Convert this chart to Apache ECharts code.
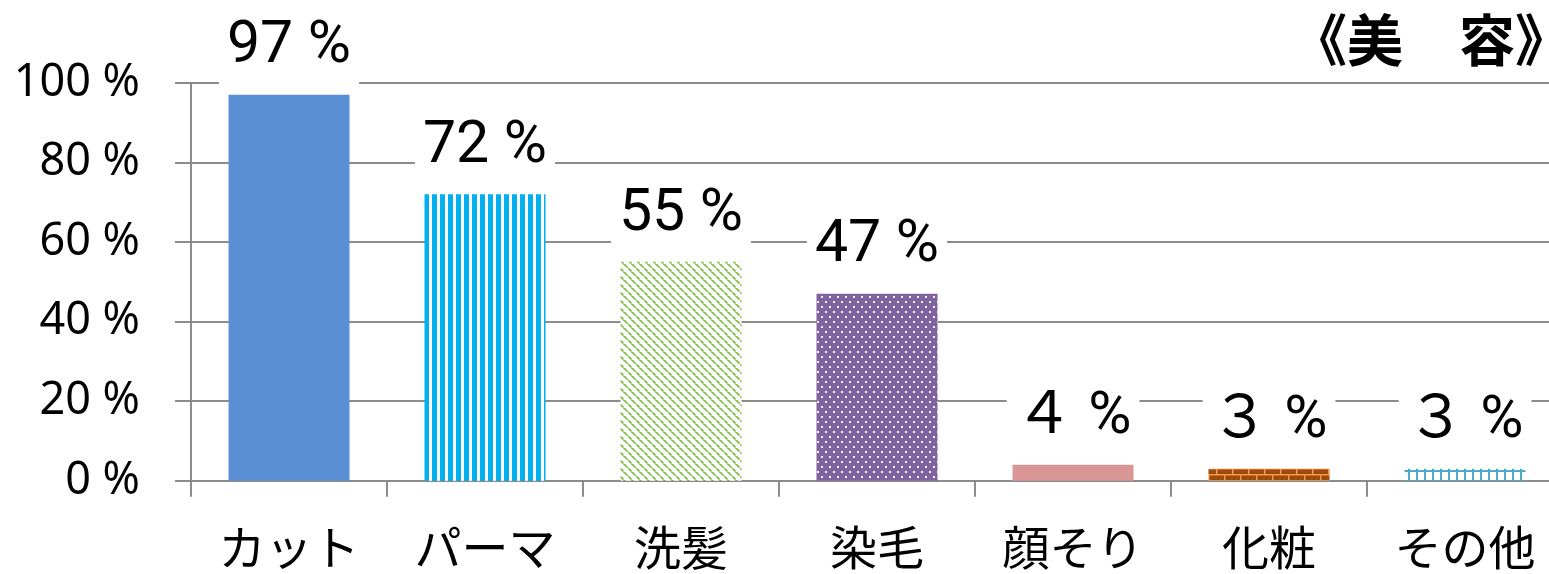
<!DOCTYPE html>
<html>
<head>
<meta charset="utf-8">
<script src="https://cdn.jsdelivr.net/npm/echarts@6/dist/echarts.min.js"></script>
<style>
html,body{margin:0;padding:0;background:#fff;}
#chart{width:1549px;height:574px;}
</style>
</head>
<body>
<div id="chart"></div>
<script>
// ---- data ----
var categories = ['カット', 'パーマ', '洗髪', '染毛', '顔そり', '化粧', 'その他'];
var values = [97, 72, 55, 47, 4, 3, 3];
var yTicks = [0, 20, 40, 60, 80, 100];
var titleText = '《美　容》';

// ---- pattern helpers (styles only) ----
function mk(w, h, draw) {
  var c = document.createElement('canvas');
  c.width = w; c.height = h;
  var g = c.getContext('2d');
  draw(g);
  return { image: c, repeat: 'repeat' };
}
var pStripes = mk(8, 8, function (g) {
  g.fillStyle = '#fff'; g.fillRect(0, 0, 8, 8);
  g.fillStyle = '#00B0F0'; g.fillRect(0, 0, 5, 8);
});
var pDiag = mk(8, 8, function (g) {
  g.fillStyle = '#fff'; g.fillRect(0, 0, 8, 8);
  g.fillStyle = '#8CC152';
  for (var i = 0; i < 8; i++) { if (i % 4 !== 3) g.fillRect(i, i, 1.8, 1.8); }
  g.fillRect(7, 0, 1, 1);
});
var pDots = mk(8, 10, function (g) {
  g.fillStyle = '#8064A2'; g.fillRect(0, 0, 8, 10);
  g.fillStyle = 'rgba(255,255,255,0.9)';
  g.fillRect(1, 1, 2, 2);
  g.fillRect(5, 6, 2, 2);
});
var pBrick = mk(16, 12, function (g) {
  g.fillStyle = '#9E4A0C'; g.fillRect(0, 0, 16, 12);
  g.fillStyle = '#F79646';
  g.fillRect(0, 0, 16, 1.5);
  g.fillRect(0, 6, 16, 1.5);
  g.fillRect(0, 0, 1.5, 6);
  g.fillRect(8, 6, 1.5, 6);
});
var pGrid = mk(8, 10, function (g) {
  g.fillStyle = '#fff'; g.fillRect(0, 0, 8, 10);
  g.fillStyle = '#4BACC6';
  g.fillRect(0, 0, 2, 10);
  g.fillRect(0, 0, 8, 2);
});
var barFills = ['#5A8FD6', pStripes, pDiag, pDots, '#D99694', pBrick, pGrid];

var gray = '#8C8C8C';
var chart = echarts.init(document.getElementById('chart'), null, { renderer: 'canvas' });

function fw(n) {
  return String(n).split('').map(function (ch) {
    return String.fromCharCode(0xFF10 + (+ch));
  }).join('');
}

chart.setOption({
  animation: false,
  backgroundColor: '#fff',
  grid: { left: 191, top: 82.7, width: 1372, height: 398, containLabel: false, outerBoundsMode: 'none' },
  xAxis: {
    type: 'category',
    data: categories,
    boundaryGap: true,
    axisLine: { show: true, lineStyle: { color: gray, width: 2 } },
    axisTick: { show: true, length: 16, lineStyle: { color: gray, width: 2 } },
    axisLabel: {
      color: '#000', fontSize: 47, fontFamily: 'Noto Sans CJK JP', margin: 42, lineHeight: 48,
      interval: 0
    }
  },
  yAxis: {
    type: 'value',
    min: yTicks[0], max: yTicks[yTicks.length - 1], interval: 20,
    axisLine: { show: true, lineStyle: { color: gray, width: 2 } },
    axisTick: { show: true, length: 16, lineStyle: { color: gray, width: 2 } },
    splitLine: { show: true, lineStyle: { color: gray, width: 2 } },
    axisLabel: {
      color: '#000', fontSize: 45, fontFamily: 'Noto Sans', margin: 51,
      formatter: function (v) { return v + ' %'; }
    }
  },
  graphic: [{
    type: 'text', left: 1291, top: 12, z: 100,
    style: { text: titleText, font: 'bold 56px "Noto Sans CJK JP"', fill: '#000' }
  }],
  series: [{
    type: 'bar',
    barWidth: 121,
    data: values.map(function (v, i) {
      return { value: v, itemStyle: { color: barFills[i] } };
    }),
    label: {
      show: true, position: 'top', distance: 8,
      color: '#000', fontSize: 59, lineHeight: 44,
      fontFamily: 'Roboto, "Noto Sans CJK JP", sans-serif',
      backgroundColor: '#fff',
      padding: [8, 8, 17, 8],
      formatter: function (p) {
        var v = p.value;
        return (v < 10 ? fw(v) : v) + ' %';
      }
    }
  }]
});
</script>
</body>
</html>
